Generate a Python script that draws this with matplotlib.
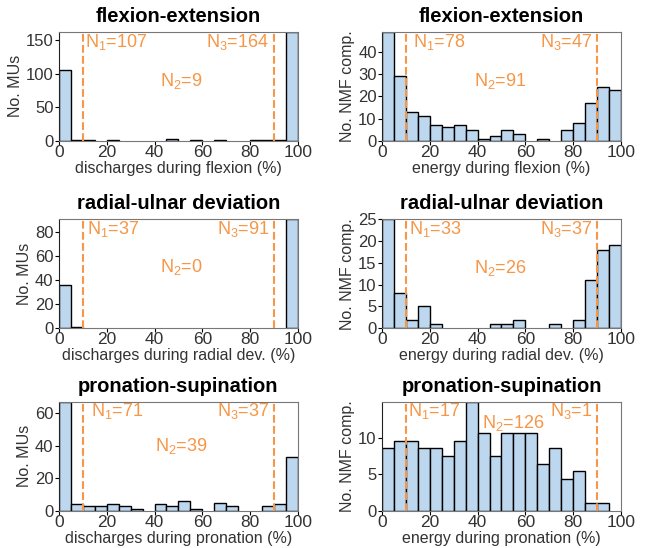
import numpy as np
import matplotlib
matplotlib.use('Agg')
import matplotlib.pyplot as plt

plt.rcParams['font.family'] = ['Liberation Sans', 'DejaVu Sans']
plt.rcParams['mathtext.default'] = 'regular'

# bin edges (%), 5 % wide
bin_edges = np.arange(0, 105, 5)

# counts per bin
mu_flex = [106, 1, 1, 0, 1, 0, 0, 0, 0, 3, 0, 1, 0, 1, 0, 0, 1, 1, 1, 163]
nmf_flex = [49, 29, 13, 11, 7, 6, 7, 5, 1, 2, 5, 3, 0, 1, 0, 5, 8, 17, 24, 23]
mu_rad = [36, 1, 0, 0, 0, 0, 0, 0, 0, 0, 0, 0, 0, 0, 0, 0, 0, 0, 0, 91]
nmf_rad = [25, 8, 2, 5, 1, 0, 0, 0, 0, 1, 1, 2, 0, 0, 1, 0, 2, 11, 18, 19]
mu_pro = [67, 4, 3, 3, 4, 3, 1, 0, 4, 3, 6, 1, 0, 5, 3, 0, 0, 3, 4, 33]
nmf_pro = [8.6, 9.6, 9.6, 8.6, 8.6, 7.5, 9.6, 15.0, 10.7, 7.5, 10.7, 10.7, 10.7,
           6.4, 8.6, 4.3, 5.4, 1.1, 1.1, 0]

titles = ['flexion-extension', 'radial-ulnar deviation', 'pronation-supination']
xlabels_mu = ['discharges during flexion (%)', 'discharges during radial dev. (%)',
              'discharges during pronation (%)']
xlabels_nmf = ['energy during flexion (%)', 'energy during radial dev. (%)',
               'energy during pronation (%)']
n_mu = [(107, 9, 164), (37, 0, 91), (71, 39, 37)]
n_nmf = [(78, 91, 47), (33, 26, 37), (17, 126, 1)]
yticks_mu = [[0, 50, 100, 150], [0, 20, 40, 60, 80], [0, 20, 40, 60]]
yticks_nmf = [[0, 10, 20, 30, 40], [0, 5, 10, 15, 20, 25], [0, 5, 10]]

bar_fc = '#bdd7ee'
orange = '#f79646'
txt = '#333333'

fig = plt.figure(figsize=(6.5, 5.48), dpi=100)

# axes positions [left, bottom, width, height] in figure fraction
lefts = [0.091, 0.588]
bottoms = [0.743, 0.401, 0.068]
w, h = 0.367, 0.199

# (x of N1, x of N2 centre, y of N2) per panel
n_pos_mu = [(11.0, 51, 0.55), (11.5, 51, 0.56), (13.3, 51, 0.59)]
n_pos_nmf = [(12.8, 49.5, 0.55), (11.4, 49.5, 0.55), (10.8, 55, 0.80)]


def panel(ax, counts, title, xlabel, ylabel, yticks, nvals, npos):
    counts = np.array(counts, dtype=float)
    keep = counts > 0
    ax.bar(bin_edges[:-1][keep], counts[keep], width=5, align='edge',
           color=bar_fc, edgecolor='black', linewidth=1.0, zorder=2)
    ax.set_xlim(0, 100)
    ax.set_ylim(0, counts.max())
    ax.set_xticks([0, 20, 40, 60, 80, 100])
    ax.set_yticks(yticks)
    ax.tick_params(axis='x', labelsize=12.5, length=3, pad=0, labelcolor=txt)
    ax.tick_params(axis='y', labelsize=12, length=3, pad=1, labelcolor=txt)
    for s in ['top', 'bottom', 'right']:
        ax.spines[s].set_color('#777777')
    ax.spines['left'].set_color('#222222')
    ax.set_title(title, fontsize=14.5, fontweight='bold', pad=7)
    ax.set_xlabel(xlabel, fontsize=11.5, labelpad=0.5, color=txt)
    ax.set_ylabel(ylabel, fontsize=11.5, labelpad=2, color=txt)
    ax.axvline(10, color=orange, ls='--', lw=1.5, zorder=3)
    ax.axvline(90, color=orange, ls='--', lw=1.5, zorder=3)
    x1, x2, y2 = npos
    ax.text(x1, 0.91, 'N$_1$=%d' % nvals[0], color=orange, fontsize=13,
            ha='left', va='center', transform=ax.get_xaxis_transform())
    ax.text(x2, y2, 'N$_2$=%d' % nvals[1], color=orange, fontsize=13,
            ha='center', va='center', transform=ax.get_xaxis_transform())
    ax.text(88, 0.91, 'N$_3$=%d' % nvals[2], color=orange, fontsize=13,
            ha='right', va='center', transform=ax.get_xaxis_transform())


mu_data = [mu_flex, mu_rad, mu_pro]
nmf_data = [nmf_flex, nmf_rad, nmf_pro]
for r in range(3):
    ax = fig.add_axes([lefts[0], bottoms[r], w, h])
    panel(ax, mu_data[r], titles[r], xlabels_mu[r], 'No. MUs',
          yticks_mu[r], n_mu[r], n_pos_mu[r])
    ax = fig.add_axes([lefts[1], bottoms[r], w, h])
    panel(ax, nmf_data[r], titles[r], xlabels_nmf[r], 'No. NMF comp.',
          yticks_nmf[r], n_nmf[r], n_pos_nmf[r])

plt.savefig('out.png', dpi=100)
